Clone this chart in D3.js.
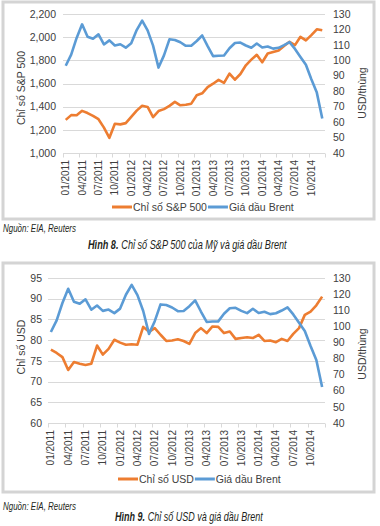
<!DOCTYPE html>
<html>
<head>
<meta charset="utf-8">
<script src="https://cdn.jsdelivr.net/npm/d3@7"></script>
<style>
  html, body { margin: 0; padding: 0; background: #fff; }
  svg { display: block; }
  text { font-family: "Liberation Sans", Arial, sans-serif; fill: #404040; }
  .foot { font-family: "Liberation Sans Narrow", "Liberation Sans", Arial, sans-serif; fill: #231f20; }
</style>
</head>
<body>
<svg id="chart" width="380" height="526"></svg>
<script>
// ---------- DATA ----------
const months = [];
for (let y = 2011; y <= 2014; y++) for (let m = 1; m <= 12; m++) months.push((m < 10 ? "0" + m : "" + m) + "/" + y);
const tickLabels = ["01/2011","04/2011","07/2011","10/2011","01/2012","04/2012","07/2012","10/2012",
                    "01/2013","04/2013","07/2013","10/2013","01/2014","04/2014","07/2014","10/2014"];

const sp500 = [1286,1327,1326,1364,1345,1321,1292,1219,1131,1253,1247,1258,
               1312,1366,1408,1398,1310,1362,1379,1407,1441,1412,1416,1426,
               1498,1515,1569,1598,1631,1606,1686,1633,1682,1757,1806,1848,
               1783,1859,1872,1884,1924,1960,1931,2003,1972,2018,2068,2059];

const usdIndex = [77.7,76.9,75.9,72.8,74.7,74.3,74.0,74.3,78.7,76.5,77.9,80.1,
                  79.4,78.9,79.0,78.9,83.2,82.0,82.9,81.3,79.8,79.9,80.2,79.8,
                  79.1,81.7,82.9,81.7,83.3,83.2,81.7,82.1,80.3,80.5,80.7,80.5,
                  81.3,79.8,79.9,79.5,80.3,79.8,81.5,82.9,86.1,86.9,88.4,90.5];

const brent = [96.5,103.7,114.5,123.3,115.3,114.0,116.8,110.3,112.9,109.6,110.4,108.2,
               111.0,119.6,125.7,119.4,109.5,95.3,103.2,113.6,113.2,111.7,109.4,109.5,
               112.5,116.1,109.2,102.7,103.0,103.1,107.8,111.2,111.5,109.6,108.2,110.9,
               108.3,109.0,107.6,108.1,109.8,111.8,107.4,102.2,97.1,87.8,79.1,62.3];

const sp500Ticks = [1000,1200,1400,1600,1800,2000,2200];
const usdTicks = [60,65,70,75,80,85,90,95];
const brentTicks = [40,50,60,70,80,90,100,110,120,130];

const legend1 = ["Chỉ số S&P 500", "Giá dầu Brent"];
const legend2 = ["Chỉ số USD", "Giá dầu Brent"];
const leftTitle1 = "Chỉ số S&P 500";
const leftTitle2 = "Chỉ số USD";
const rightTitle = "USD/thùng";
const source = "Nguồn: EIA, Reuters";
const caption1 = ["Hình 8.", "Chỉ số S&P 500 của Mỹ và giá dầu Brent"];
const caption2 = ["Hình 9.", "Chỉ số USD và giá dầu Brent"];

// ---------- DRAW ----------
const ORANGE = "#ED7D31", BLUE = "#5B9BD5", GRID = "#d9d9d9";
const svg = d3.select("#chart");

function drawChart(cfg) {
  const g = svg.append("g");
  // frame
  g.append("rect").attr("x", cfg.frame[0]).attr("y", cfg.frame[1])
    .attr("width", cfg.frame[2]).attr("height", cfg.frame[3])
    .attr("fill", "#fff").attr("stroke", "#d4d4d4").attr("stroke-width", 3);

  const x = d3.scaleBand().domain(months).range([cfg.left, cfg.right]).padding(0);
  const xc = d => x(d) + x.bandwidth() / 2;
  const yL = d3.scaleLinear().domain(cfg.leftDomain).range([cfg.bottom, cfg.top]);
  const yR = d3.scaleLinear().domain([40, 130]).range([cfg.bottom, cfg.top]);

  // gridlines
  g.append("g").selectAll("line").data(cfg.leftTicks).join("line")
    .attr("x1", cfg.left).attr("x2", cfg.right)
    .attr("y1", d => Math.round(yL(d)) + 0.5).attr("y2", d => Math.round(yL(d)) + 0.5)
    .attr("stroke", GRID).attr("stroke-width", 1);

  // x tick marks every 3 months
  const tickIdx = d3.range(0, months.length + 1, 3);
  g.append("g").selectAll("line").data(tickIdx).join("line")
    .attr("x1", i => Math.round(cfg.left + i * x.bandwidth()) + 0.5)
    .attr("x2", i => Math.round(cfg.left + i * x.bandwidth()) + 0.5)
    .attr("y1", Math.round(cfg.bottom) + 0.5).attr("y2", Math.round(cfg.bottom) + 4.5)
    .attr("stroke", GRID);

  // left axis labels
  const fmt = cfg.leftFormat;
  g.append("g").selectAll("text").data(cfg.leftTicks).join("text")
    .attr("x", cfg.leftLabelX).attr("y", d => yL(d)).attr("dy", "0.35em")
    .attr("text-anchor", "end").attr("font-size", 10.5).text(d => fmt(d));

  // right axis labels
  g.append("g").selectAll("text").data(brentTicks).join("text")
    .attr("x", 333).attr("y", d => yR(d)).attr("dy", "0.35em")
    .attr("text-anchor", "start").attr("font-size", 10.5).text(d => d);

  // x labels rotated
  const months3 = months.filter((m, i) => i % 3 === 0);
  g.append("g").selectAll("text").data(months3).join("text")
    .attr("transform", d => `translate(${xc(d)},${cfg.bottom + 7}) rotate(-90)`)
    .attr("dy", "0.35em").attr("text-anchor", "end").attr("font-size", 10)
    .text((d, i) => tickLabels[i]);

  // axis titles
  g.append("text").attr("transform", `translate(${21},${cfg.leftTitleY}) rotate(-90)`)
    .attr("dy", "0.35em").attr("text-anchor", "middle").attr("font-size", 10.5).text(cfg.leftTitle);
  g.append("text").attr("transform", `translate(${362},${cfg.rightTitleY}) rotate(-90)`)
    .attr("dy", "0.35em").attr("text-anchor", "middle").attr("font-size", 10.5).text(rightTitle);

  // lines
  const lineL = d3.line().x((d, i) => xc(months[i])).y(d => yL(d));
  const lineR = d3.line().x((d, i) => xc(months[i])).y(d => yR(d));
  g.append("path").datum(cfg.leftData).attr("d", lineL)
    .attr("fill", "none").attr("stroke", ORANGE).attr("stroke-width", 2.6).attr("stroke-linejoin", "round");
  g.append("path").datum(brent).attr("d", lineR)
    .attr("fill", "none").attr("stroke", BLUE).attr("stroke-width", 2.6).attr("stroke-linejoin", "round");

  // legend
  const ly = cfg.legendY;
  const lg = g.append("g");
  let lx = cfg.legendX;
  cfg.legend.forEach((t, k) => {
    lg.append("line").attr("x1", lx).attr("x2", lx + 20).attr("y1", ly).attr("y2", ly)
      .attr("stroke", k === 0 ? ORANGE : BLUE).attr("stroke-width", 3);
    const tx = lg.append("text").attr("x", lx + 21).attr("y", ly).attr("dy", "0.35em")
      .attr("font-size", 10.5).text(t);
    lx = lx + 21 + tx.node().getComputedTextLength() + 1;
  });

  // source (condensed via horizontal scale)
  const sg = svg.append("g");
  const st = sg.append("text").attr("class", "foot").attr("x", 0).attr("y", 0).attr("dy", "0.35em")
    .attr("font-size", 11).attr("font-style", "italic").text(source);
  const sk = 73 / st.node().getComputedTextLength();
  sg.attr("transform", `translate(3,${cfg.sourceY}) scale(${sk},1)`);

  // caption: bold part + regular part, condensed via horizontal scale
  const fs = 12.5;
  const capG = svg.append("g");
  const b = capG.append("text").attr("class", "foot").attr("x", 0).attr("y", 0).attr("dy", "0.35em")
    .attr("font-size", fs).attr("font-style", "italic").attr("font-weight", "bold").text(cfg.caption[0]);
  const bw0 = b.node().getComputedTextLength();
  const gap0 = fs * 0.3;
  const r = capG.append("text").attr("class", "foot").attr("x", bw0 + gap0).attr("y", 0).attr("dy", "0.35em")
    .attr("font-size", fs).attr("font-style", "italic").text(cfg.caption[1]);
  const rw0 = r.node().getComputedTextLength();
  const k = cfg.capW / (bw0 + gap0 + rw0);
  capG.attr("transform", `translate(${cfg.capX},${cfg.capY}) scale(${k},1)`);
}

drawChart({
  frame: [3, 2, 371, 217],
  left: 63, right: 325, top: 14, bottom: 153,
  leftDomain: [1000, 2200], leftTicks: sp500Ticks, leftFormat: d3.format(","),
  leftLabelX: 56, leftData: sp500,
  leftTitle: leftTitle1, leftTitleY: 88, rightTitleY: 93,
  legend: legend1, legendX: 112, legendY: 207,
  sourceY: 228, capX: 88, capY: 245, capW: 199, caption: caption1
});

drawChart({
  frame: [3, 263, 371, 229],
  left: 48, right: 325, top: 278, bottom: 423,
  leftDomain: [60, 95], leftTicks: usdTicks, leftFormat: d => d,
  leftLabelX: 42, leftData: usdIndex,
  leftTitle: leftTitle2, leftTitleY: 347, rightTitleY: 354,
  legend: legend2, legendX: 118, legendY: 479,
  sourceY: 506, capX: 115, capY: 517, capW: 148, caption: caption2
});
</script>
</body>
</html>
